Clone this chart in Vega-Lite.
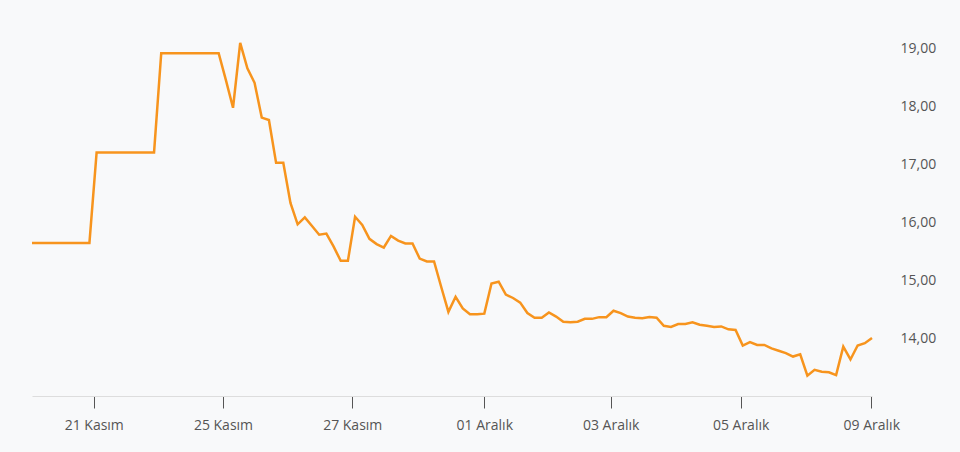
{
  "$schema": "https://vega.github.io/schema/vega-lite/v6.json",
  "width": 840,
  "height": 396,
  "autosize": {"type": "none"},
  "padding": {"left": 32, "top": 0, "right": 88, "bottom": 56},
  "background": "#f8f9fa",
  "view": {"stroke": null},
  "config": {
    "font": "Open Sans",
    "axis": {"grid": false, "labelFont": "Open Sans", "labelFontSize": 14, "labelColor": "#555555", "title": null}
  },
  "data": {
    "values": [
      {"i": 0, "v": 15.64}, {"i": 1, "v": 15.64}, {"i": 2, "v": 15.64}, {"i": 3, "v": 15.64}, {"i": 4, "v": 15.64},
      {"i": 5, "v": 15.64}, {"i": 6, "v": 15.64}, {"i": 7, "v": 15.64}, {"i": 8, "v": 15.64},
      {"i": 9, "v": 17.2}, {"i": 10, "v": 17.2}, {"i": 11, "v": 17.2}, {"i": 12, "v": 17.2}, {"i": 13, "v": 17.2},
      {"i": 14, "v": 17.2}, {"i": 15, "v": 17.2}, {"i": 16, "v": 17.2}, {"i": 17, "v": 17.2},
      {"i": 18, "v": 18.91}, {"i": 19, "v": 18.91}, {"i": 20, "v": 18.91}, {"i": 21, "v": 18.91}, {"i": 22, "v": 18.91},
      {"i": 23, "v": 18.91}, {"i": 24, "v": 18.91}, {"i": 25, "v": 18.91}, {"i": 26, "v": 18.91},
      {"i": 27, "v": 18.45}, {"i": 28, "v": 17.97}, {"i": 29, "v": 19.09}, {"i": 30, "v": 18.65}, {"i": 31, "v": 18.4},
      {"i": 32, "v": 17.8}, {"i": 33, "v": 17.76}, {"i": 34, "v": 17.02}, {"i": 35, "v": 17.02}, {"i": 36, "v": 16.33},
      {"i": 37, "v": 15.96}, {"i": 38, "v": 16.08}, {"i": 39, "v": 15.93}, {"i": 40, "v": 15.78}, {"i": 41, "v": 15.8},
      {"i": 42, "v": 15.58}, {"i": 43, "v": 15.33}, {"i": 44, "v": 15.33}, {"i": 45, "v": 16.09}, {"i": 46, "v": 15.95},
      {"i": 47, "v": 15.71}, {"i": 48, "v": 15.62}, {"i": 49, "v": 15.56}, {"i": 50, "v": 15.76}, {"i": 51, "v": 15.68},
      {"i": 52, "v": 15.63}, {"i": 53, "v": 15.63}, {"i": 54, "v": 15.37}, {"i": 55, "v": 15.32}, {"i": 56, "v": 15.32},
      {"i": 57, "v": 14.88}, {"i": 58, "v": 14.45}, {"i": 59, "v": 14.71}, {"i": 60, "v": 14.51}, {"i": 61, "v": 14.41},
      {"i": 62, "v": 14.41}, {"i": 63, "v": 14.42}, {"i": 64, "v": 14.94}, {"i": 65, "v": 14.97}, {"i": 66, "v": 14.75},
      {"i": 67, "v": 14.69}, {"i": 68, "v": 14.61}, {"i": 69, "v": 14.43}, {"i": 70, "v": 14.35}, {"i": 71, "v": 14.35},
      {"i": 72, "v": 14.44}, {"i": 73, "v": 14.37}, {"i": 74, "v": 14.28}, {"i": 75, "v": 14.27}, {"i": 76, "v": 14.28},
      {"i": 77, "v": 14.33}, {"i": 78, "v": 14.33}, {"i": 79, "v": 14.36}, {"i": 80, "v": 14.36}, {"i": 81, "v": 14.47},
      {"i": 82, "v": 14.43}, {"i": 83, "v": 14.37}, {"i": 84, "v": 14.35}, {"i": 85, "v": 14.34}, {"i": 86, "v": 14.36},
      {"i": 87, "v": 14.35}, {"i": 88, "v": 14.21}, {"i": 89, "v": 14.19}, {"i": 90, "v": 14.24}, {"i": 91, "v": 14.24},
      {"i": 92, "v": 14.27}, {"i": 93, "v": 14.23}, {"i": 94, "v": 14.21}, {"i": 95, "v": 14.19}, {"i": 96, "v": 14.2},
      {"i": 97, "v": 14.15}, {"i": 98, "v": 14.14}, {"i": 99, "v": 13.87}, {"i": 100, "v": 13.93}, {"i": 101, "v": 13.88},
      {"i": 102, "v": 13.88}, {"i": 103, "v": 13.82}, {"i": 104, "v": 13.78}, {"i": 105, "v": 13.74}, {"i": 106, "v": 13.68},
      {"i": 107, "v": 13.72}, {"i": 108, "v": 13.35}, {"i": 109, "v": 13.45}, {"i": 110, "v": 13.42}, {"i": 111, "v": 13.41},
      {"i": 112, "v": 13.36}, {"i": 113, "v": 13.85}, {"i": 114, "v": 13.63}, {"i": 115, "v": 13.87}, {"i": 116, "v": 13.91},
      {"i": 117, "v": 14.0}
    ]
  },
  "mark": {"type": "line", "color": "#f7941d", "strokeWidth": 2.5, "strokeJoin": "miter"},
  "encoding": {
    "x": {
      "field": "i",
      "type": "quantitative",
      "scale": {"domain": [0, 117], "nice": false, "zero": false},
      "axis": {
        "values": [8.6, 26.6, 44.6, 63.0, 80.6, 98.7, 116.9],
        "labelExpr": "datum.value < 10 ? '21 Kasım' : datum.value < 30 ? '25 Kasım' : datum.value < 50 ? '27 Kasım' : datum.value < 70 ? '01 Aralık' : datum.value < 90 ? '03 Aralık' : datum.value < 110 ? '05 Aralık' : '09 Aralık'",
        "domainColor": "#dddddd",
        "domainWidth": 1,
        "tickColor": "#555555",
        "tickSize": 12,
        "tickWidth": 1,
        "labelPadding": 10,
        "labelFlush": false,
        "labelOverlap": false
      }
    },
    "y": {
      "field": "v",
      "type": "quantitative",
      "scale": {"domain": [13, 19.828], "nice": false, "zero": false},
      "axis": {
        "orient": "right",
        "values": [14, 15, 16, 17, 18, 19],
        "labelExpr": "replace(format(datum.value, '.2f'), '.', ',')",
        "domain": false,
        "ticks": false,
        "tickSize": 0,
        "labelPadding": 28,
        "labelAlign": "left"
      }
    }
  }
}
